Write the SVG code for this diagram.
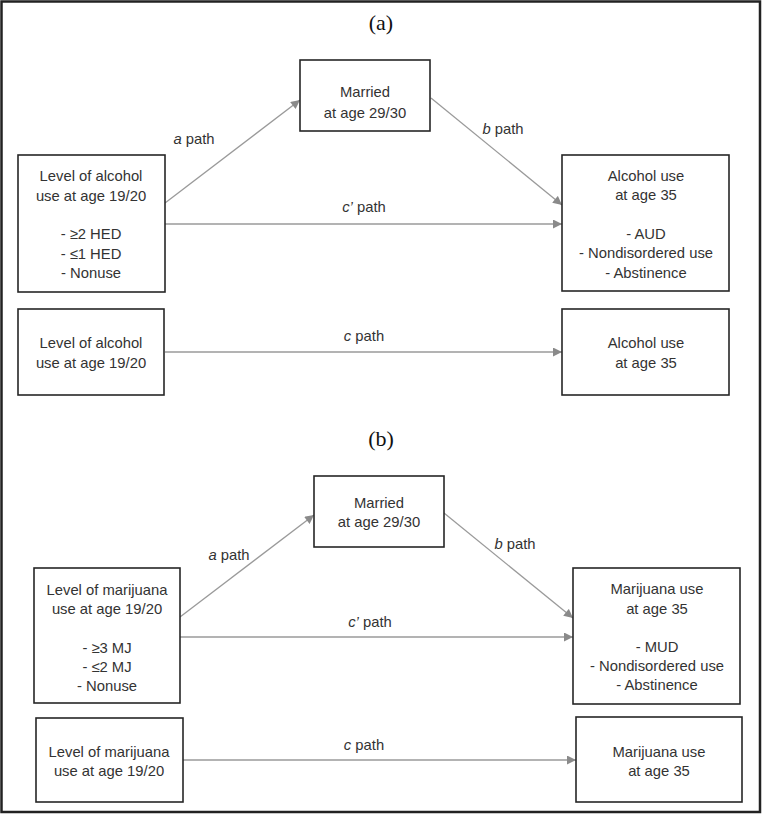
<svg xmlns="http://www.w3.org/2000/svg" width="762" height="814" viewBox="0 0 762 814">
<style>
.box{fill:#fff;stroke:#262626;stroke-width:1.6}
.t{font-family:"Liberation Sans","Noto Sans",sans-serif;font-size:14.8px;fill:#333;text-anchor:middle}
.lbl{font-family:"Liberation Sans","Noto Sans",sans-serif;font-size:14.8px;fill:#333;text-anchor:middle}
.title{font-family:"Liberation Serif",serif;font-size:22px;fill:#111;text-anchor:middle}
.c{stroke:#9a9a9a;stroke-width:1.3;fill:none;marker-end:url(#ah)}
</style>
<defs>
<marker id="ah" viewBox="0 0 10 10" refX="10" refY="5" markerWidth="10" markerHeight="9" markerUnits="userSpaceOnUse" orient="auto">
<path d="M0,0 L10,5 L0,10 z" fill="#8a8a8a"/>
</marker>
</defs>
<rect x="0" y="0" width="762" height="814" fill="#fff"/>
<rect x="1.5" y="1.5" width="758.5" height="810.5" fill="none" stroke="#222" stroke-width="2.5"/>
<text class="title" x="381" y="30">(a)</text>
<text class="title" x="381" y="446">(b)</text>

<g id="connectors">
<line class="c" x1="165" y1="203" x2="300" y2="100"/>
<line class="c" x1="431" y1="98" x2="562" y2="205"/>
<line class="c" x1="165" y1="224" x2="562" y2="224"/>
<line class="c" x1="165" y1="352" x2="562" y2="352"/>
<line class="c" x1="180" y1="617" x2="314" y2="515"/>
<line class="c" x1="444" y1="513" x2="573" y2="618"/>
<line class="c" x1="180" y1="637" x2="573" y2="637"/>
<line class="c" x1="183" y1="760" x2="576" y2="760"/>
<text class="lbl" x="194" y="144"><tspan font-style="italic">a</tspan> path</text>
<text class="lbl" x="503" y="134"><tspan font-style="italic">b</tspan> path</text>
<text class="lbl" x="364" y="212"><tspan font-style="italic">c’</tspan> path</text>
<text class="lbl" x="364" y="341"><tspan font-style="italic">c</tspan> path</text>
<text class="lbl" x="229" y="560"><tspan font-style="italic">a</tspan> path</text>
<text class="lbl" x="515" y="549"><tspan font-style="italic">b</tspan> path</text>
<text class="lbl" x="370" y="627"><tspan font-style="italic">c’</tspan> path</text>
<text class="lbl" x="364" y="750"><tspan font-style="italic">c</tspan> path</text>
</g>

<g id="a-married">
<rect class="box" x="300" y="60" width="130" height="71"/>
<text class="t" x="365" y="97">Married</text>
<text class="t" x="365" y="118">at age 29/30</text>
</g>
<g id="a-alcohol1920">
<rect class="box" x="18" y="155" width="147" height="137"/>
<text class="t" x="91" y="181">Level of alcohol</text>
<text class="t" x="91" y="201">use at age 19/20</text>
<text class="t" x="91" y="239">- ≥2 HED</text>
<text class="t" x="91" y="259">- ≤1 HED</text>
<text class="t" x="91" y="278">- Nonuse</text>
</g>
<g id="a-alcohol35">
<rect class="box" x="562" y="155" width="167" height="136"/>
<text class="t" x="646" y="181">Alcohol use</text>
<text class="t" x="646" y="200">at age 35</text>
<text class="t" x="646" y="239">- AUD</text>
<text class="t" x="646" y="258">- Nondisordered use</text>
<text class="t" x="646" y="278">- Abstinence</text>
</g>
<g id="a-alcohol1920-total">
<rect class="box" x="18" y="309" width="146" height="86"/>
<text class="t" x="91" y="348">Level of alcohol</text>
<text class="t" x="91" y="368">use at age 19/20</text>
</g>
<g id="a-alcohol35-total">
<rect class="box" x="562" y="309" width="167" height="86"/>
<text class="t" x="646" y="348">Alcohol use</text>
<text class="t" x="646" y="368">at age 35</text>
</g>

<g id="b-married">
<rect class="box" x="314" y="476" width="130" height="71"/>
<text class="t" x="379" y="508">Married</text>
<text class="t" x="379" y="527">at age 29/30</text>
</g>
<g id="b-marijuana1920">
<rect class="box" x="34" y="568" width="146" height="135"/>
<text class="t" x="107" y="595">Level of marijuana</text>
<text class="t" x="107" y="614">use at age 19/20</text>
<text class="t" x="107" y="653">- ≥3 MJ</text>
<text class="t" x="107" y="672">- ≤2 MJ</text>
<text class="t" x="107" y="691">- Nonuse</text>
</g>
<g id="b-marijuana35">
<rect class="box" x="573" y="568" width="167" height="136"/>
<text class="t" x="657" y="594">Marijuana use</text>
<text class="t" x="657" y="614">at age 35</text>
<text class="t" x="657" y="652">- MUD</text>
<text class="t" x="657" y="671">- Nondisordered use</text>
<text class="t" x="657" y="690">- Abstinence</text>
</g>
<g id="b-marijuana1920-total">
<rect class="box" x="36" y="718" width="147" height="84"/>
<text class="t" x="109" y="757">Level of marijuana</text>
<text class="t" x="109" y="776">use at age 19/20</text>
</g>
<g id="b-marijuana35-total">
<rect class="box" x="576" y="717" width="166" height="85"/>
<text class="t" x="659" y="757">Marijuana use</text>
<text class="t" x="659" y="776">at age 35</text>
</g>
</svg>
